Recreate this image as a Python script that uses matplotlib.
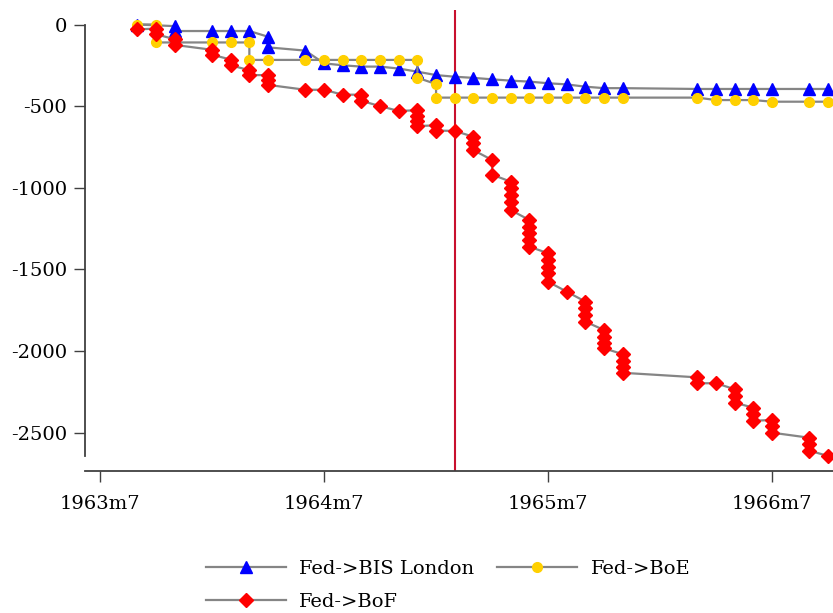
import matplotlib
matplotlib.use("Agg")
import matplotlib.pyplot as plt

# months since 1963m7
tick_months = [0, 12, 24, 36]
tick_labels = ["1963m7", "1964m7", "1965m7", "1966m7"]
y_ticks = [0, -500, -1000, -1500, -2000, -2500]

bis_month = [2, 4, 4, 6, 7, 8, 9, 9, 11, 12, 13, 14, 15, 16, 17, 18, 19, 20, 21, 22,
             23, 24, 25, 26, 27, 28, 32, 33, 34, 35, 36, 38, 39]
bis_value = [0, -10, -40, -40, -40, -40, -75, -140, -160, -238, -250, -258, -258, -270,
             -289, -310, -320, -327, -336, -344, -350, -360, -367, -381, -390, -390,
             -395, -395, -395, -395, -395, -395, -395]

boe_month = [2, 3, 3, 6, 7, 8, 8, 9, 11, 12, 13, 14, 15, 16, 17, 17, 18, 18, 19, 20,
             21, 22, 23, 24, 25, 26, 27, 28, 32, 33, 34, 35, 36, 38, 39]
boe_value = [0, 0, -110, -110, -110, -110, -217, -217, -217, -217, -217, -217, -217,
             -217, -217, -326, -365, -448, -448, -448, -448, -448, -448, -448, -448,
             -448, -448, -448, -448, -463, -463, -463, -473, -473, -473]

bof_month = [2, 3, 3, 4, 4, 6, 6, 7, 7, 8, 8, 9, 9, 9, 11, 12, 13, 14, 14, 15, 16,
             17, 17, 17, 17, 18, 18, 19, 20, 20, 20, 21, 21,
             22, 22, 22, 22, 22, 23, 23, 23, 23, 23, 24, 24, 24, 24, 24, 25,
             26, 26, 26, 26, 27, 27, 27, 27, 28, 28, 28, 28, 32, 32, 33,
             34, 34, 34, 35, 35, 35, 36, 36, 36, 38, 38, 38, 39]
bof_value = [-30, -25, -60, -90, -125, -155, -185, -215, -250, -280, -310, -310, -340,
             -370, -400, -400, -430, -430, -468, -500, -530, -525, -560, -592, -622,
             -618, -650, -652, -688, -728, -770, -830, -920,
             -963, -1004, -1045, -1086, -1137, -1198, -1239, -1279, -1320, -1361,
             -1402, -1443, -1484, -1524, -1576, -1637,
             -1698, -1739, -1780, -1821, -1872, -1913, -1953, -1984,
             -2020, -2060, -2100, -2134, -2162, -2198, -2198,
             -2235, -2276, -2317, -2348, -2386, -2428, -2423, -2460, -2501,
             -2532, -2570, -2611, -2644]

event_month = 19

plt.rcParams['font.family'] = ['DejaVu Serif']

fig = plt.figure(figsize=(8.33, 6.13), dpi=100)
ax = fig.add_axes([85 / 833, 142 / 613, 1 - 85 / 833, 461 / 613])

line_color = "#858585"
h1, = ax.plot(bis_month, bis_value, color=line_color, lw=1.6, marker="^", ms=8.3,
              mfc="#0000FF", mec="#0000FF", label="Fed->BIS London", zorder=3)
h2, = ax.plot(boe_month, boe_value, color=line_color, lw=1.6, marker="o", ms=7,
              mfc="#FFD000", mec="#FFD000", label="Fed->BoE", zorder=4)
h3, = ax.plot(bof_month, bof_value, color=line_color, lw=1.6, marker="D", ms=6.8,
              mfc="#FF0000", mec="#FF0000", label="Fed->BoF", zorder=5)

ax.axvline(event_month, color="#C8102E", lw=1.5, zorder=2)

x0 = -15 / 18.67
x1 = (833 - 100) / 18.67
ax.set_xlim(x0, x1)
ytop = (24.5 - 10) * 6.127
ybot = -(471 - 24.5) * 6.127
ax.set_ylim(ybot, ytop)

ax.set_xticks(tick_months)
ax.set_xticklabels(tick_labels)
ax.set_yticks(y_ticks)
ax.set_yticklabels([str(v) for v in y_ticks])

for s in ["top", "right"]:
    ax.spines[s].set_visible(False)
ax.spines["left"].set_bounds(min(bof_value), 0)
for s in ["left", "bottom"]:
    ax.spines[s].set_color("#404040")
    ax.spines[s].set_linewidth(1.3)
ax.tick_params(axis="both", length=8, width=1, color="#404040", labelsize=14,
               labelcolor="black")
ax.tick_params(axis="x", pad=9)
ax.tick_params(axis="y", pad=5)

leg = fig.legend([h1, h3, h2], ["Fed->BIS London", "Fed->BoF", "Fed->BoE"],
                 ncol=2, loc="upper left", bbox_to_anchor=(206 / 833, 1 - 560 / 613),
                 frameon=False, fontsize=14, handlelength=4.1, handletextpad=0.7,
                 columnspacing=1.18, labelspacing=0.76, borderpad=0, borderaxespad=0)

fig.savefig("out.png", dpi=100)
